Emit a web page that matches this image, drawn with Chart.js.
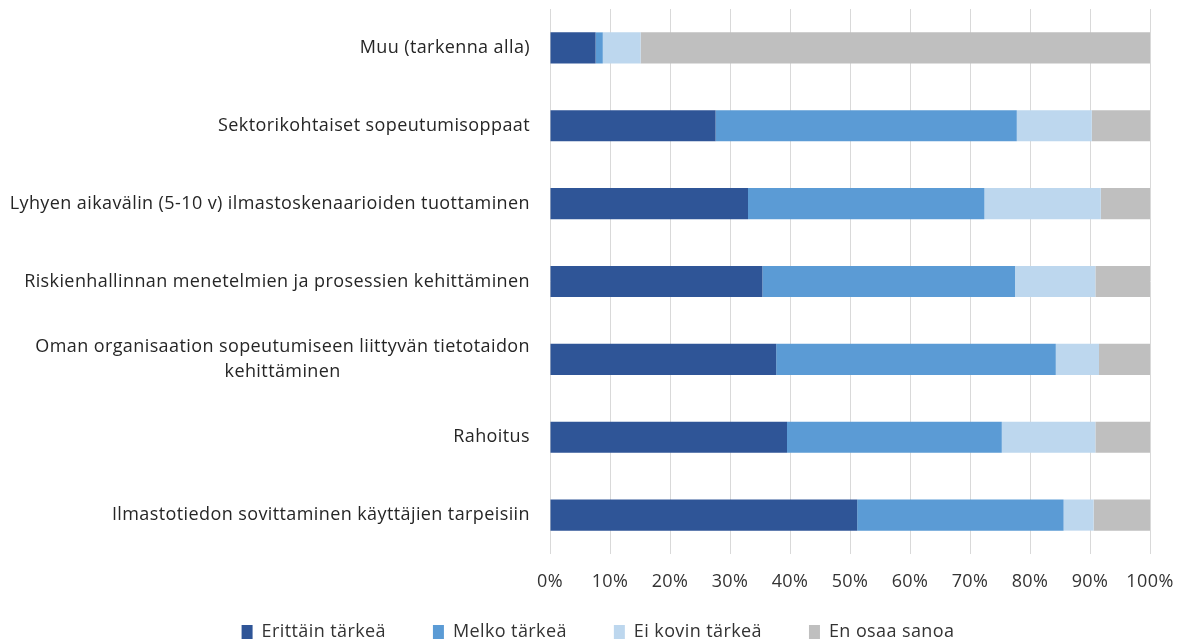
<!DOCTYPE html>
<html>
<head>
<meta charset="utf-8">
<script src="https://cdn.jsdelivr.net/npm/chart.js@4/dist/chart.umd.min.js"></script>
<style>
  html, body { margin: 0; padding: 0; background: #fff; }
  #wrap { width: 1184px; height: 644px; }
</style>
</head>
<body>
<div id="wrap"><canvas id="cv"></canvas></div>
<script>
const categories = [
  "Muu (tarkenna alla)",
  "Sektorikohtaiset sopeutumisoppaat",
  "Lyhyen aikavälin (5-10 v) ilmastoskenaarioiden tuottaminen",
  "Riskienhallinnan menetelmien ja prosessien kehittäminen",
  ["Oman organisaation sopeutumiseen liittyvän tietotaidon", "kehittäminen"],
  "Rahoitus",
  "Ilmastotiedon sovittaminen käyttäjien tarpeisiin"
];
const seriesNames = ["Erittäin tärkeä", "Melko tärkeä", "Ei kovin tärkeä", "En osaa sanoa"];
const erittainTarkea = [7.6, 27.6, 33.0, 35.4, 37.7, 39.5, 51.2];
const melkoTarkea    = [1.2, 50.2, 39.4, 42.1, 46.6, 35.8, 34.4];
const eiKovinTarkea  = [6.3, 12.5, 19.4, 13.4, 7.2, 15.6, 5.0];
const enOsaaSanoa    = [84.9, 9.7, 8.2, 9.1, 8.5, 9.1, 9.4];
const xTicks = [0, 10, 20, 30, 40, 50, 60, 70, 80, 90, 100];

const colors = ["#2f5597", "#5b9bd5", "#bdd7ee", "#bfbfbf"];
const FONT = "'Open Sans', sans-serif";
const TEXT = "#333333";
const SPACING = "0.4px";

// the reference text is a little wider than Open Sans, so widen it a bit
const spacing = {
  id: "spacing",
  beforeUpdate(chart) { chart.ctx.letterSpacing = SPACING; },
  beforeDraw(chart) { chart.ctx.letterSpacing = SPACING; }
};

// legend padding is large (item gaps), so pull the legend box up/right a bit
const legendShift = {
  id: "legendShift",
  afterLayout(chart) {
    let lg = chart.legend;
    lg.top = 576;
    lg.left += 23;
    lg.right += 23;
  }
};

// y labels drawn by hand so that a wrapped label's lines are centred on each other
const yLabels = {
  id: "yLabels",
  afterDraw(chart) {
    let sc = chart.scales.y;
    let ctx = chart.ctx;
    ctx.save();
    ctx.letterSpacing = SPACING;
    ctx.font = "18px " + FONT;
    ctx.fillStyle = "#262626";
    ctx.textAlign = "center";
    ctx.textBaseline = "middle";
    let lh = 25;
    categories.forEach((lab, i) => {
      let lines = Array.isArray(lab) ? lab : [lab];
      let w = Math.max(...lines.map((l) => ctx.measureText(l).width));
      let cx = sc.right - 20 - w / 2;
      let y0 = sc.getPixelForTick(i) - (lines.length - 1) * lh / 2;
      lines.forEach((l, j) => ctx.fillText(l, cx, y0 + j * lh));
    });
    ctx.restore();
  }
};

const data = [erittainTarkea, melkoTarkea, eiKovinTarkea, enOsaaSanoa];

new Chart(document.getElementById("cv"), {
  type: "bar",
  data: {
    labels: categories,
    datasets: seriesNames.map((name, i) => ({
      label: name,
      data: data[i],
      backgroundColor: colors[i],
      borderWidth: 0,
      barPercentage: 0.4,
      categoryPercentage: 1
    }))
  },
  options: {
    indexAxis: "y",
    responsive: true,
    maintainAspectRatio: false,
    animation: false,
    layout: { padding: { top: 9, right: 34, left: 0, bottom: 0 } },
    scales: {
      x: {
        stacked: true,
        min: 0,
        max: 100,
        afterBuildTicks: (s) => { s.ticks = xTicks.map((v) => ({ value: v })); },
        afterFit: (s) => { s.height = 40; s.paddingRight = 0; s.paddingLeft = 0; },
        grid: { color: "#d9d9d9", drawTicks: false },
        border: { display: false },
        ticks: {
          padding: 17,
          color: TEXT,
          font: { family: FONT, size: 18 },
          callback: (v) => v + "%"
        }
      },
      y: {
        stacked: true,
        afterFit: (s) => { s.width = 550; },
        grid: { display: false },
        border: { display: false },
        ticks: { display: false }
      }
    },
    plugins: {
      legend: {
        position: "bottom",
        maxHeight: 50,
        labels: {
          boxWidth: 11,
          boxHeight: 14,
          padding: 47,
          color: TEXT,
          font: { family: FONT, size: 18 }
        }
      },
      tooltip: { enabled: false }
    }
  },
  plugins: [spacing, legendShift, yLabels]
});
</script>
</body>
</html>
